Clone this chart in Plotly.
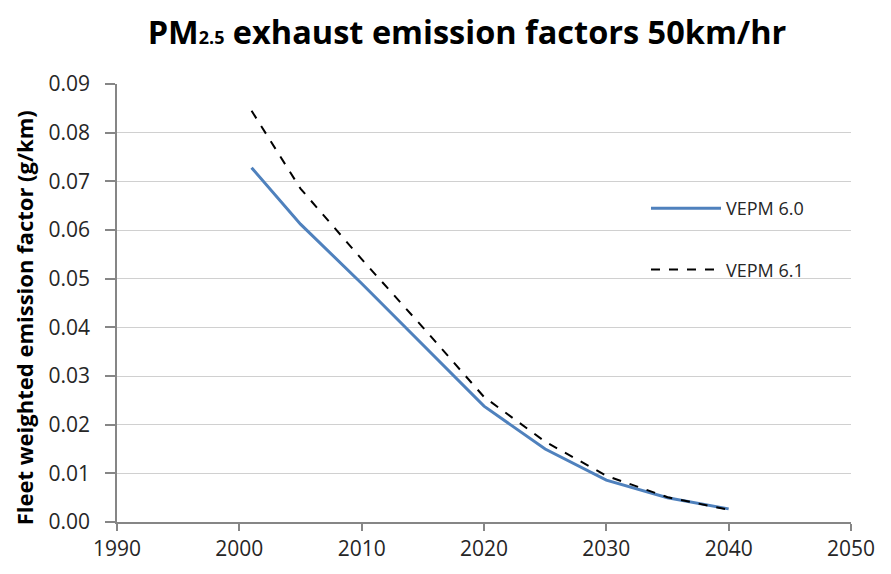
import plotly.graph_objects as go

years = [2001, 2005, 2010, 2015, 2020, 2025, 2030, 2035, 2040]
vepm60 = [0.0728, 0.0612, 0.0490, 0.0365, 0.0238, 0.0150, 0.0086, 0.0050, 0.0027]
vepm61 = [0.0845, 0.0685, 0.0540, 0.0400, 0.0257, 0.0165, 0.0095, 0.0051, 0.0025]
x_ticks = [1990, 2000, 2010, 2020, 2030, 2040, 2050]
y_ticks = [0.00, 0.01, 0.02, 0.03, 0.04, 0.05, 0.06, 0.07, 0.08, 0.09]
y_title = "Fleet weighted emission factor (g/km)"

fig = go.Figure()
fig.add_trace(go.Scatter(x=years, y=vepm60, mode="lines", name="VEPM 6.0",
                         legendgroup="a",
                         line=dict(color="#4F81BD", width=3)))
fig.add_trace(go.Scatter(x=years, y=vepm61, mode="lines", name="VEPM 6.1",
                         legendgroup="b",
                         line=dict(color="black", width=2, dash="dash")))

font_family = "'Open Sans', sans-serif"
fig.update_layout(
    width=875, height=558,
    paper_bgcolor="white", plot_bgcolor="white",
    margin=dict(l=109, r=32, t=76, b=44),
    title=dict(text="PM<span style='font-size:18px'>2.5</span> exhaust emission factors 50km/hr",
               x=0.5246, xanchor="center", y=0.955, yanchor="middle",
               font=dict(family=font_family, size=32.5, color="black", weight="bold")),
    font=dict(family=font_family, size=21, color="#262626"),
    showlegend=True,
    legend=dict(x=0.7207, y=0.758, xanchor="left", yanchor="top",
                bgcolor="rgba(0,0,0,0)", tracegroupgap=35,
                font=dict(size=18, color="#262626"), itemwidth=70),
    xaxis=dict(range=[1990, 2050], tickvals=x_ticks, showgrid=False,
               showline=True, linecolor="#868686", linewidth=1.5,
               ticks="outside", ticklen=7, tickcolor="#868686", tickwidth=1.5,
               zeroline=False, mirror=False, automargin=False),
    yaxis=dict(range=[0, 0.09], tickvals=y_ticks, tickformat=".2f",
               showgrid=True, gridcolor="#D0D0D0", gridwidth=1.2,
               showline=True, linecolor="#868686", linewidth=1.5,
               ticks="outside", ticklen=10, tickcolor="#868686", tickwidth=1.5,
               ticklabelstandoff=11, automargin=False,
               zeroline=False),
    annotations=[dict(text="<b>" + y_title + "</b>", textangle=-90,
                      xref="paper", yref="paper", x=-0.1262, y=0.466,
                      xanchor="center", yanchor="middle", showarrow=False,
                      font=dict(family=font_family, size=22, color="black"))],
)

fig.write_html("out.html")
